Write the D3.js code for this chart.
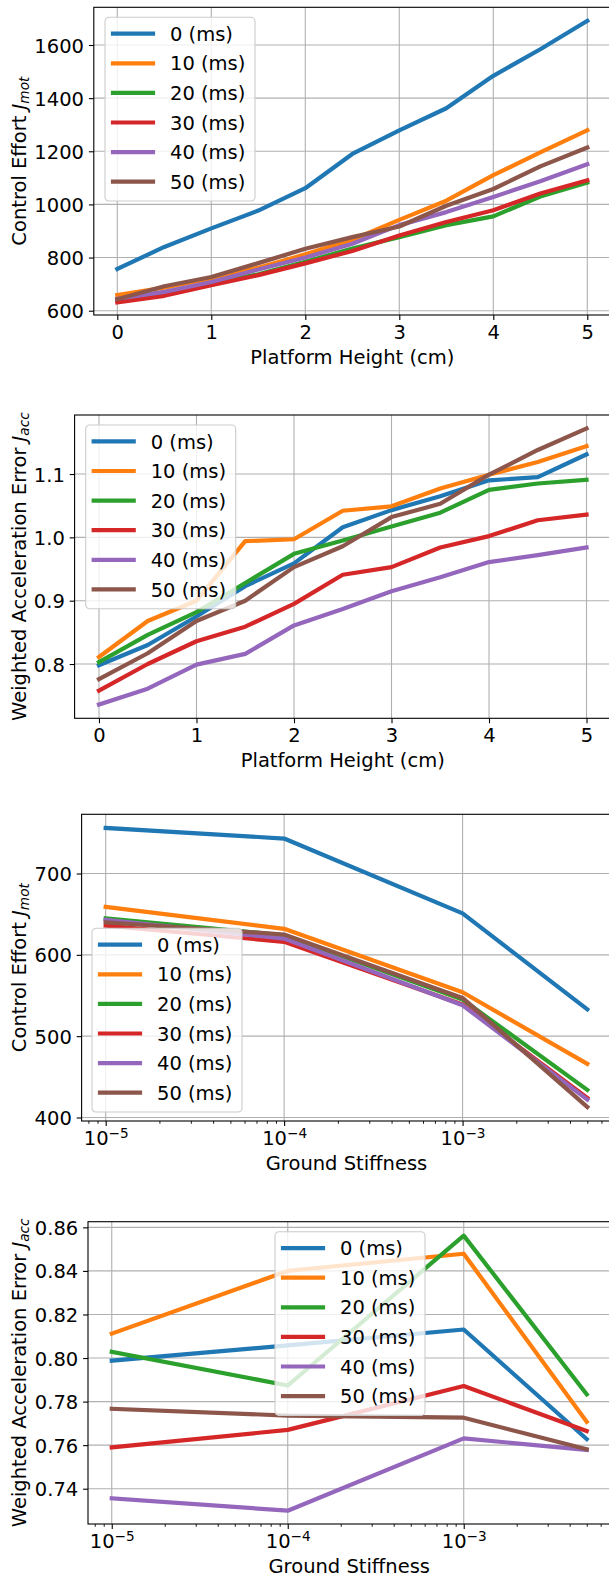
<!DOCTYPE html>
<html><head><meta charset="utf-8">
<script src="https://cdn.jsdelivr.net/npm/d3@7"></script>
<style>body{margin:0;background:#fff} svg{display:block} text{font-family:"DejaVu Sans";}</style>
</head><body><svg id="c" width="609" height="1574"></svg>
<script>
// ---- data ----
const delays = ["0 (ms)","10 (ms)","20 (ms)","30 (ms)","40 (ms)","50 (ms)"];
const colors = ["#1f77b4","#ff7f0e","#2ca02c","#d62728","#9467bd","#8c564b"];
const platformHeight = [0,0.5,1,1.5,2,2.5,3,3.5,4,4.5,5];
const groundStiffness = [1e-5,1e-4,1e-3,5e-3];

const effortVsHeight = [
  [757, 840, 910, 977, 1061, 1190, 1279, 1362, 1484, 1584, 1691],
  [659, 687, 721, 762, 812, 867, 942, 1014, 1110, 1196, 1279],
  [641, 669, 702, 737, 784, 834, 877, 922, 955, 1030, 1082],
  [631, 656, 696, 734, 778, 825, 883, 934, 978, 1041, 1091],
  [645, 671, 708, 755, 800, 852, 922, 971, 1028, 1087, 1151],
  [643, 692, 727, 779, 833, 877, 917, 995, 1058, 1143, 1214]
];
const accVsHeight = [
  [0.798, 0.830, 0.875, 0.923, 0.959, 1.016, 1.043, 1.065, 1.090, 1.095, 1.131],
  [0.811, 0.868, 0.900, 0.994, 0.997, 1.042, 1.049, 1.077, 1.099, 1.119, 1.144],
  [0.803, 0.846, 0.882, 0.928, 0.974, 0.995, 1.017, 1.039, 1.075, 1.085, 1.091],
  [0.758, 0.800, 0.836, 0.859, 0.895, 0.941, 0.953, 0.984, 1.002, 1.027, 1.036],
  [0.736, 0.761, 0.799, 0.816, 0.861, 0.887, 0.915, 0.937, 0.961, 0.972, 0.984],
  [0.776, 0.817, 0.868, 0.900, 0.953, 0.986, 1.032, 1.053, 1.099, 1.138, 1.172]
];
const effortVsStiffness = [
  [756, 743, 651, 533],
  [659, 632, 554, 466],
  [645, 624, 545, 434],
  [636, 616, 539, 424],
  [643, 620, 538, 422],
  [640, 625, 547, 413]
];
const accVsStiffness = [
  [0.7988, 0.8058, 0.8131, 0.7628],
  [0.8112, 0.8400, 0.8479, 0.7707],
  [0.8029, 0.7874, 0.8562, 0.7833],
  [0.7590, 0.7670, 0.7872, 0.7665],
  [0.7356, 0.7299, 0.7631, 0.7578],
  [0.7767, 0.7736, 0.7726, 0.7581]
];

const heightTicks = [0,1,2,3,4,5];
const stiffnessTicks = [1e-5,1e-4,1e-3];
const effortHeightTicks = [600,800,1000,1200,1400,1600];
const accHeightTicks = [0.8,0.9,1.0,1.1];
const effortStiffTicks = [400,500,600,700];
const accStiffTicks = [0.74,0.76,0.78,0.80,0.82,0.84,0.86];

// ---- drawing ----
const svg = d3.select("#c");
svg.append("rect").attr("width",609).attr("height",1574).attr("fill","#fff");
const FS = 19.5;
const LW = 4.2;

function drawPanel(p, idx){
  const g = svg.append("g");
  const x = p.log ? d3.scaleLog().domain(p.xDomain).range([p.left,p.right])
                  : d3.scaleLinear().domain(p.xDomain).range([p.left,p.right]);
  const y = d3.scaleLinear().domain(p.yDomain).range([p.bottom,p.top]);

  // grid
  g.append("g").selectAll("line").data(p.xTicks).join("line")
    .attr("x1",d=>x(d)).attr("x2",d=>x(d)).attr("y1",p.top).attr("y2",p.bottom)
    .attr("stroke","#b0b0b0").attr("stroke-width",1.1);
  g.append("g").selectAll("line").data(p.yTicks).join("line")
    .attr("y1",d=>y(d)).attr("y2",d=>y(d)).attr("x1",p.left).attr("x2",p.right)
    .attr("stroke","#b0b0b0").attr("stroke-width",1.1);

  // clip
  const cid = "clip"+idx;
  svg.append("clipPath").attr("id",cid).append("rect")
    .attr("x",p.left).attr("y",p.top).attr("width",p.right-p.left).attr("height",p.bottom-p.top);

  const line = d3.line().x((d,i)=>x(p.xVals[i])).y(d=>y(d));
  g.append("g").attr("clip-path",`url(#${cid})`).selectAll("path").data(p.series).join("path")
    .attr("d",line).attr("fill","none")
    .attr("stroke",(d,i)=>colors[i]).attr("stroke-width",LW)
    .attr("stroke-linecap","square").attr("stroke-linejoin","round");

  // x axis
  const xa = d3.axisBottom(x).tickValues(p.xTicks).tickSize(4.9).tickPadding(4.9).tickSizeOuter(0)
    .tickFormat(p.log ? ()=>"" : d3.format("d"));
  const gx = g.append("g").attr("transform",`translate(0,${p.bottom})`).call(xa)
    .attr("font-size",FS).attr("font-family","DejaVu Sans");
  gx.select(".domain").remove();
  gx.selectAll(".tick line").attr("stroke","#000").attr("stroke-width",1.1);
  gx.selectAll(".tick text").attr("fill","#000");
  if (p.log){
    gx.selectAll(".tick text").each(function(d){
      const t = d3.select(this);
      t.text(null);
      t.append("tspan").text("10");
      t.append("tspan").attr("font-size",FS*0.7).attr("dy",-6.7)
        .text("\u2212"+Math.round(-Math.log10(d)));
    });
    const minor = [];
    for (let e=-6;e<=-2;e++) for (let k=2;k<=9;k++){
      const v = k*Math.pow(10,e);
      if (v>=p.xDomain[0] && v<=p.xDomain[1]) minor.push(v);
    }
    const gm = g.append("g").attr("transform",`translate(0,${p.bottom})`)
      .call(d3.axisBottom(x).tickValues(minor).tickSize(2.8).tickSizeOuter(0).tickFormat(()=>""));
    gm.select(".domain").remove();
    gm.selectAll(".tick line").attr("stroke","#000").attr("stroke-width",0.9);
  }

  // y axis
  const ya = d3.axisLeft(y).tickValues(p.yTicks).tickSize(4.9).tickPadding(4.9).tickSizeOuter(0)
    .tickFormat(p.yFmt);
  const gy = g.append("g").attr("transform",`translate(${p.left},0)`).call(ya)
    .attr("font-size",FS).attr("font-family","DejaVu Sans");
  gy.select(".domain").remove();
  gy.selectAll(".tick line").attr("stroke","#000").attr("stroke-width",1.1);
  gy.selectAll(".tick text").attr("fill","#000").attr("dy","0.36em");

  // spines
  g.append("rect").attr("x",p.left).attr("y",p.top)
    .attr("width",p.right-p.left).attr("height",p.bottom-p.top)
    .attr("fill","none").attr("stroke","#000").attr("stroke-width",1.1);

  // x label
  g.append("text").attr("x",(p.left+p.right)/2).attr("y",p.bottom+48.5)
    .attr("text-anchor","middle").attr("font-size",FS).attr("fill","#000").text(p.xlabel);

  // y label
  const yl = g.append("text")
    .attr("transform",`translate(26,${(p.top+p.bottom)/2}) rotate(-90)`)
    .attr("text-anchor","middle").attr("font-size",FS).attr("fill","#000");
  yl.append("tspan").text(p.ylabel+" ");
  yl.append("tspan").attr("font-style","italic").text("J");
  yl.append("tspan").attr("font-style","italic").attr("font-size",FS*0.7).attr("dy",3).text(p.ysub);

  // legend
  const lg = g.append("g").attr("transform",`translate(${p.legend[0]},${p.legend[1]})`);
  lg.append("rect").attr("width",150).attr("height",183.7).attr("rx",4)
    .attr("fill","#fff").attr("fill-opacity",0.8)
    .attr("stroke","#cccccc").attr("stroke-width",1.1);
  delays.forEach((d,i)=>{
    const cy = 16.4 + i*29.6;
    lg.append("line").attr("x1",8).attr("x2",48).attr("y1",cy).attr("y2",cy)
      .attr("stroke",colors[i]).attr("stroke-width",LW).attr("stroke-linecap","square");
    lg.append("text").attr("x",65).attr("y",cy+7.1).attr("font-size",FS).attr("fill","#000").text(d);
  });
}

const logDom = [Math.pow(10,-5.135), Math.pow(10,-2.166)];

drawPanel({left:93.8, right:610.8, top:7.3, bottom:315, log:false,
  xDomain:[-0.25,5.25], yDomain:[583.8,1741.9], xTicks:heightTicks, yTicks:effortHeightTicks,
  yFmt:d3.format("d"), xVals:platformHeight, series:effortVsHeight,
  xlabel:"Platform Height (cm)", ylabel:"Control Effort", ysub:"mot", legend:[105,17.3]}, 0);

drawPanel({left:74.6, right:610.9, top:415, bottom:718.3, log:false,
  xDomain:[-0.25,5.25], yDomain:[0.7143,1.1932], xTicks:heightTicks, yTicks:accHeightTicks,
  yFmt:d3.format(".1f"), xVals:platformHeight, series:accVsHeight,
  xlabel:"Platform Height (cm)", ylabel:"Weighted Acceleration Error", ysub:"acc", legend:[85.7,425]}, 1);

drawPanel({left:81.6, right:611.4, top:814.3, bottom:1121, log:true,
  xDomain:logDom, yDomain:[395.7,772.8], xTicks:stiffnessTicks, yTicks:effortStiffTicks,
  yFmt:d3.format("d"), xVals:groundStiffness, series:effortVsStiffness,
  xlabel:"Ground Stiffness", ylabel:"Control Effort", ysub:"mot", legend:[92,928.3]}, 2);

drawPanel({left:88, right:610.5, top:1221.7, bottom:1524, log:true,
  xDomain:logDom, yDomain:[0.7238,0.8626], xTicks:stiffnessTicks, yTicks:accStiffTicks,
  yFmt:d3.format(".2f"), xVals:groundStiffness, series:accVsStiffness,
  xlabel:"Ground Stiffness", ylabel:"Weighted Acceleration Error", ysub:"acc", legend:[275,1231.7]}, 3);
</script>
</body></html>
